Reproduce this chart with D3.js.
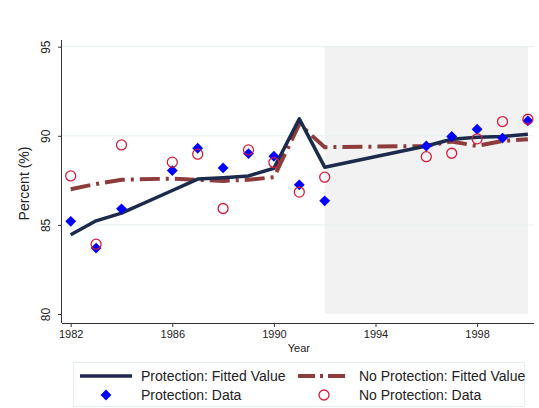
<!DOCTYPE html>
<html>
<head>
<meta charset="utf-8">
<script src="https://cdn.jsdelivr.net/npm/d3@7"></script>
<style>
  body { margin: 0; background: #fff; }
  svg { display: block; font-family: "Liberation Sans", Arial, sans-serif; }
</style>
</head>
<body>
<div id="chart"></div>
<script>
// chart values
const years = [1982, 1983, 1984, 1986, 1987, 1988, 1989, 1990, 1991, 1992, 1996, 1997, 1998, 1999, 2000];
const protFit   = [84.45, 85.23, 85.66, 86.93, 87.57, 87.65, 87.75, 88.18, 90.95, 88.24, 89.43, 89.81, 89.92, 89.96, 90.09];
const noProtFit = [87.0, 87.3, 87.53, 87.6, 87.53, 87.47, 87.53, 87.68, 90.65, 89.36, 89.43, 89.68, 89.43, 89.71, 89.8];
const protData   = [85.2, 83.7, 85.9, 88.05, 89.3, 88.2, 89.0, 88.85, 87.25, 86.35, 89.43, 89.96, 90.37, 89.87, 90.84];
const noProtData = [87.75, 83.92, 89.49, 88.52, 88.97, 85.92, 89.21, 88.5, 86.84, 87.68, 88.83, 89.02, 89.83, 90.8, 90.93];
const xTicks = [1982, 1986, 1990, 1994, 1998];
const yTicks = [80, 85, 90, 95];
const shadeRange = [1992, 2000];

const W = 539, H = 408;
const navy = "#1c2b4b", maroon = "#8e3b3b", blue = "#0000ff", crimson = "#d41c3c";

const svg = d3.select("#chart").append("svg")
  .attr("width", W).attr("height", H);

const x = d3.scaleLinear().domain([1982, 2000]).range([70.7, 527.9]);
const y = d3.scaleLinear().domain([80, 95]).range([314, 46.7]);

const plotLeft = 62, plotRight = 534, plotTop = 40, plotBottom = 323;

// shaded period
svg.append("rect")
  .attr("x", x(shadeRange[0])).attr("y", y(95))
  .attr("width", x(shadeRange[1]) - x(shadeRange[0]))
  .attr("height", y(80) - y(95))
  .attr("fill", "#f2f2f2");

// gridlines
svg.append("g").selectAll("line")
  .data(yTicks.filter(d => d > 80))
  .join("line")
  .attr("x1", plotLeft).attr("x2", plotRight)
  .attr("y1", d => y(d)).attr("y2", d => y(d))
  .attr("stroke", "#e6eff1").attr("stroke-width", 1);

// axes
const yAxis = svg.append("g")
  .attr("transform", `translate(${plotLeft},0)`)
  .call(d3.axisLeft(y).tickValues(yTicks).tickSize(4).tickPadding(4));
yAxis.select(".domain").attr("d", `M-0.5,${plotTop}V${plotBottom}`).attr("stroke", "#333");
yAxis.selectAll(".tick line").attr("stroke", "#333");
yAxis.selectAll(".tick text")
  .attr("transform", "rotate(-90)")
  .attr("x", 0).attr("y", -12)
  .attr("dy", 0)
  .attr("text-anchor", "middle")
  .attr("font-size", 12).attr("fill", "#222");

const xAxis = svg.append("g")
  .attr("transform", `translate(0,${plotBottom})`)
  .call(d3.axisBottom(x).tickValues(xTicks).tickFormat(d3.format("d")).tickSize(4).tickPadding(3));
xAxis.select(".domain").attr("d", `M${plotLeft},0.5H${plotRight}`).attr("stroke", "#333");
xAxis.selectAll(".tick line").attr("stroke", "#333");
xAxis.selectAll(".tick text").attr("font-size", 11).attr("fill", "#222");

// axis titles
svg.append("text")
  .attr("transform", `translate(29,${(plotTop + plotBottom) / 2 + 2}) rotate(-90)`)
  .attr("text-anchor", "middle")
  .attr("font-size", 14).attr("fill", "#222")
  .text("Percent (%)");
svg.append("text")
  .attr("x", x(1990) + 25).attr("y", 352)
  .attr("text-anchor", "middle")
  .attr("font-size", 11).attr("fill", "#222")
  .text("Year");

// fitted lines
const line = d3.line().x((d, i) => x(years[i])).y(d => y(d));
svg.append("path")
  .attr("d", line(noProtFit))
  .attr("fill", "none").attr("stroke", maroon)
  .attr("stroke-width", 4)
  .attr("stroke-dasharray", "20,6,3,6");
svg.append("path")
  .attr("d", line(protFit))
  .attr("fill", "none").attr("stroke", navy)
  .attr("stroke-width", 3.5).attr("stroke-linejoin", "round");

// data points
const diamond = d3.symbol().type(d3.symbolDiamond2).size(75);
svg.append("g").selectAll("path")
  .data(protData)
  .join("path")
  .attr("d", diamond)
  .attr("transform", (d, i) => `translate(${x(years[i])},${y(d)})`)
  .attr("fill", blue);

svg.append("g").selectAll("circle")
  .data(noProtData)
  .join("circle")
  .attr("cx", (d, i) => x(years[i])).attr("cy", d => y(d))
  .attr("r", 5)
  .attr("fill", "none").attr("stroke", crimson).attr("stroke-width", 1.3);

// legend
const lg = svg.append("g");
lg.append("rect")
  .attr("x", 73.5).attr("y", 362.5).attr("width", 451).attr("height", 44)
  .attr("fill", "#fff").attr("stroke", "#e4eef0");
lg.append("line")
  .attr("x1", 80).attr("x2", 132).attr("y1", 376).attr("y2", 376)
  .attr("stroke", navy).attr("stroke-width", 3.5);
lg.append("line")
  .attr("x1", 298).attr("x2", 350).attr("y1", 376).attr("y2", 376)
  .attr("stroke", maroon).attr("stroke-width", 4)
  .attr("stroke-dasharray", "17,5,3,5");
lg.append("path")
  .attr("d", diamond)
  .attr("transform", "translate(106,395)")
  .attr("fill", blue);
lg.append("circle")
  .attr("cx", 324).attr("cy", 395).attr("r", 5)
  .attr("fill", "none").attr("stroke", crimson).attr("stroke-width", 1.3);

const labels = [
  { text: "Protection: Fitted Value", x: 141, y: 376 },
  { text: "No Protection: Fitted Value", x: 359, y: 376 },
  { text: "Protection: Data", x: 141, y: 395 },
  { text: "No Protection: Data", x: 359, y: 395 }
];
lg.selectAll("text.lab")
  .data(labels)
  .join("text")
  .attr("class", "lab")
  .attr("x", d => d.x).attr("y", d => d.y)
  .attr("dy", "0.35em")
  .attr("font-size", 14).attr("fill", "#222")
  .text(d => d.text);
</script>
</body>
</html>
